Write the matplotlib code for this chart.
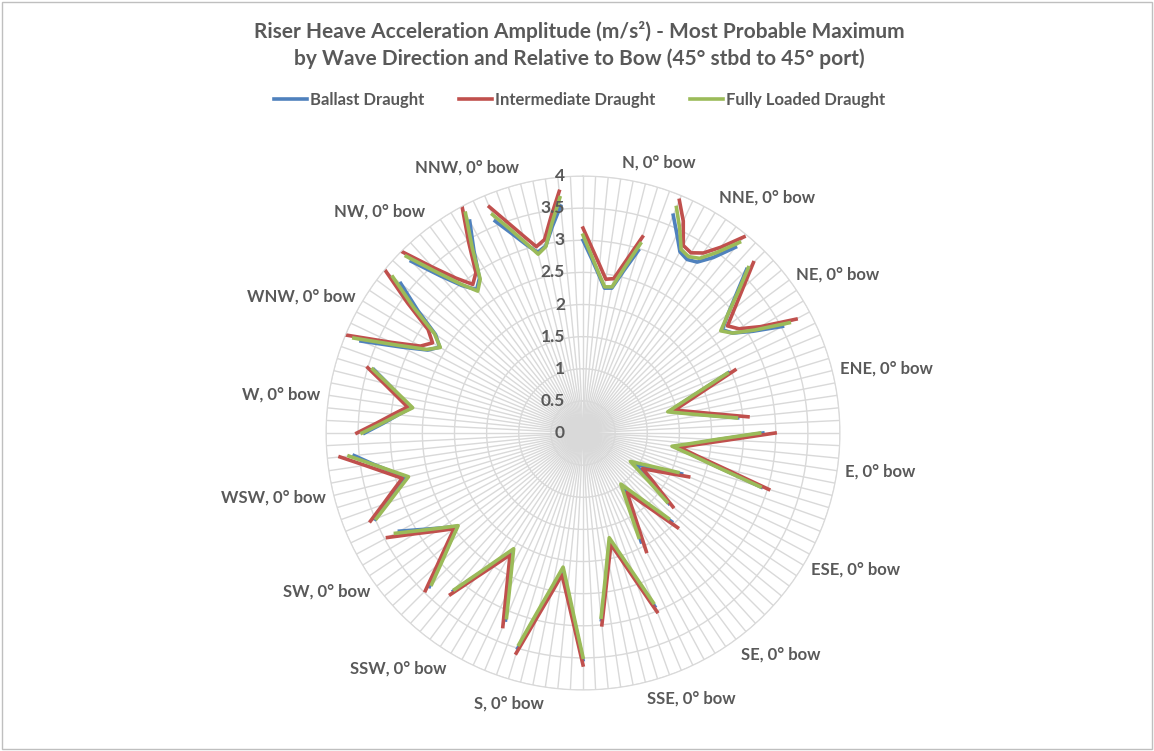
import numpy as np
import matplotlib
matplotlib.use("Agg")
import matplotlib.pyplot as plt
from matplotlib.lines import Line2D
from matplotlib.patches import Rectangle

plt.rcParams["font.family"] = ["Lato", "DejaVu Sans"]

# wave directions, clockwise from north; 7 relative headings each (45 stbd .. 45 port)
directions = ["N", "NNE", "NE", "ENE", "E", "ESE", "SE", "SSE",
              "S", "SSW", "SW", "WSW", "W", "WNW", "NW", "NNW"]

ballast = [
    [3.00, 2.72, 2.48, 2.28, 2.30, 2.60, 2.97],
    [3.67, 3.42, 3.20, 3.15, 3.20, 3.40, 3.74],
    [3.60, 3.22, 2.92, 2.70, 2.80, 3.08, 3.52],
    [2.45, 1.94, 1.61, 1.39, 1.60, 1.92, 2.42],
    [2.80, 2.10, 1.72, 1.45, 1.74, 2.15, 2.90],
    [1.66, 1.32, 1.10, 0.95, 1.12, 1.37, 1.73],
    [1.95, 1.50, 1.24, 1.05, 1.23, 1.50, 1.92],
    [2.92, 2.36, 1.99, 1.72, 1.99, 2.37, 2.92],
    [3.53, 2.90, 2.46, 2.15, 2.46, 2.88, 3.50],
    [3.15, 2.71, 2.38, 2.13, 2.39, 2.73, 3.18],
    [3.38, 2.98, 2.68, 2.44, 2.66, 2.92, 3.24],
    [3.50, 3.23, 3.02, 2.83, 3.05, 3.30, 3.58],
    [3.40, 3.11, 2.89, 2.70, 2.90, 3.12, 3.40],
    [3.74, 3.13, 2.74, 2.60, 2.76, 3.20, 3.67],
    [3.78, 3.30, 2.97, 2.78, 2.90, 3.30, 3.74],
    [3.57, 3.30, 3.07, 2.90, 2.97, 3.25, 3.55],
]

intermediate = [
    [3.19, 2.88, 2.63, 2.42, 2.45, 2.77, 3.19],
    [3.92, 3.65, 3.31, 3.27, 3.37, 3.60, 3.95],
    [3.75, 3.36, 3.05, 2.80, 2.92, 3.22, 3.76],
    [2.56, 2.05, 1.71, 1.47, 1.71, 2.05, 2.58],
    [2.99, 2.25, 1.80, 1.52, 1.80, 2.26, 3.02],
    [1.78, 1.46, 1.24, 1.08, 1.26, 1.48, 1.81],
    [2.08, 1.63, 1.35, 1.15, 1.35, 1.64, 2.09],
    [3.01, 2.45, 2.06, 1.79, 2.06, 2.44, 3.00],
    [3.61, 2.98, 2.55, 2.23, 2.55, 2.97, 3.58],
    [3.26, 2.81, 2.47, 2.21, 2.47, 2.80, 3.25],
    [3.47, 3.06, 2.75, 2.50, 2.75, 3.05, 3.45],
    [3.58, 3.31, 3.09, 2.90, 3.14, 3.43, 3.80],
    [3.52, 3.21, 2.97, 2.76, 2.96, 3.20, 3.50],
    [3.98, 3.30, 2.87, 2.73, 2.90, 3.40, 3.97],
    [4.00, 3.48, 3.12, 2.88, 3.00, 3.46, 3.99],
    [3.81, 3.48, 3.21, 2.99, 3.07, 3.40, 3.78],
]

fully_loaded = [
    [3.08, 2.76, 2.50, 2.30, 2.32, 2.65, 3.08],
    [3.80, 3.52, 3.24, 3.20, 3.27, 3.50, 3.84],
    [3.64, 3.25, 2.92, 2.67, 2.80, 3.12, 3.64],
    [2.43, 1.92, 1.59, 1.36, 1.58, 1.90, 2.40],
    [2.75, 2.07, 1.68, 1.40, 1.70, 2.12, 2.88],
    [1.60, 1.24, 1.01, 0.86, 1.03, 1.30, 1.69],
    [1.88, 1.44, 1.17, 0.99, 1.16, 1.42, 1.84],
    [2.86, 2.31, 1.94, 1.68, 1.95, 2.33, 2.88],
    [3.49, 2.86, 2.42, 2.11, 2.42, 2.83, 3.44],
    [3.11, 2.67, 2.35, 2.10, 2.36, 2.70, 3.15],
    [3.33, 2.95, 2.66, 2.42, 2.66, 2.95, 3.31],
    [3.48, 3.21, 2.99, 2.80, 3.03, 3.31, 3.66],
    [3.44, 3.13, 2.89, 2.68, 2.88, 3.12, 3.42],
    [3.86, 3.20, 2.76, 2.59, 2.78, 3.28, 3.83],
    [3.89, 3.37, 3.00, 2.75, 2.88, 3.35, 3.88],
    [3.68, 3.37, 3.10, 2.87, 2.96, 3.30, 3.68],
]

series_names = ["Ballast Draught", "Intermediate Draught", "Fully Loaded Draught"]
series_colors = ["#4F81BD", "#C0504D", "#9BBB59"]

r_ticks = [0, 0.5, 1, 1.5, 2, 2.5, 3, 3.5, 4]
r_tick_labels = ["0", "0.5", "1", "1.5", "2", "2.5", "3", "3.5", "4"]

title = ("Riser Heave Acceleration Amplitude (m/s²) - Most Probable Maximum\n"
         "by Wave Direction and Relative to Bow (45° stbd to 45° port)")

text_col = "#595959"
grid_col = "#D9D9D9"

# 8 category slots per direction: 7 headings + one empty slot
slots = 8
n_cat = len(directions) * slots
theta = np.arange(n_cat) * 2 * np.pi / n_cat
bow_index = 3


def spread(groups):
    vals = np.full(n_cat, np.nan)
    for g, grp in enumerate(groups):
        vals[g * slots:g * slots + len(grp)] = grp
    return vals


fig = plt.figure(figsize=(11.54, 7.51), dpi=100)
ax = fig.add_axes([0.2825, 0.0812, 0.4454, 0.6844], projection="polar")
ax.set_theta_zero_location("N")
ax.set_theta_direction(-1)
ax.set_ylim(0, 4)
ax.set_xticks(theta)
ax.set_xticklabels([])
ax.set_yticks(r_ticks)
ax.set_yticklabels([])
ax.grid(True, color=grid_col, lw=1.0)
ax.spines["polar"].set_color(grid_col)
ax.set_axisbelow(True)

for groups, name, col in zip([ballast, intermediate, fully_loaded], series_names, series_colors):
    ax.plot(theta, spread(groups), color=col, lw=2.6, label=name, solid_joinstyle="round")

# category labels (only the 0 deg bow heading of each direction carries text)
for g, d in enumerate(directions):
    ang = theta[g * slots + bow_index]
    s, c = np.sin(ang), np.cos(ang)
    ha = "left" if s > 0.02 else ("right" if s < -0.02 else "center")
    va = "bottom" if c > 0.7 else ("top" if c < -0.7 else "center")
    ax.annotate(d + ", 0° bow", xy=(ang, 4), xytext=(6 * s, 6 * c),
                textcoords="offset points", ha=ha, va=va, fontsize=12,
                fontweight="bold", color=text_col, annotation_clip=False)

# value axis labels along the north spoke
for v, lab in zip(r_ticks, r_tick_labels):
    ax.annotate(lab, xy=(0, v), xytext=(-13, 0), textcoords="offset points",
                ha="right", va="center", fontsize=12.5, fontweight="bold",
                color=text_col, annotation_clip=False)

fig.text(0.502, 1 - 45 / 751, title, ha="center", va="center", fontsize=15,
         fontweight="bold", color=text_col, linespacing=1.35)

handles = [Line2D([], [], color=c, lw=2.6) for c in series_colors]
fig.legend(handles, series_names, loc="center", bbox_to_anchor=(0.502, 1 - 100 / 751),
           ncol=3, frameon=False, prop={"weight": "bold", "size": 12},
           labelcolor=text_col, handlelength=2.0, handletextpad=0.15,
           columnspacing=2.1)

fig.patches.append(Rectangle((0.002, 0.003), 0.996, 0.994, transform=fig.transFigure,
                             fill=False, edgecolor="#BFBFBF", lw=1))

fig.savefig("out.png", dpi=100)
